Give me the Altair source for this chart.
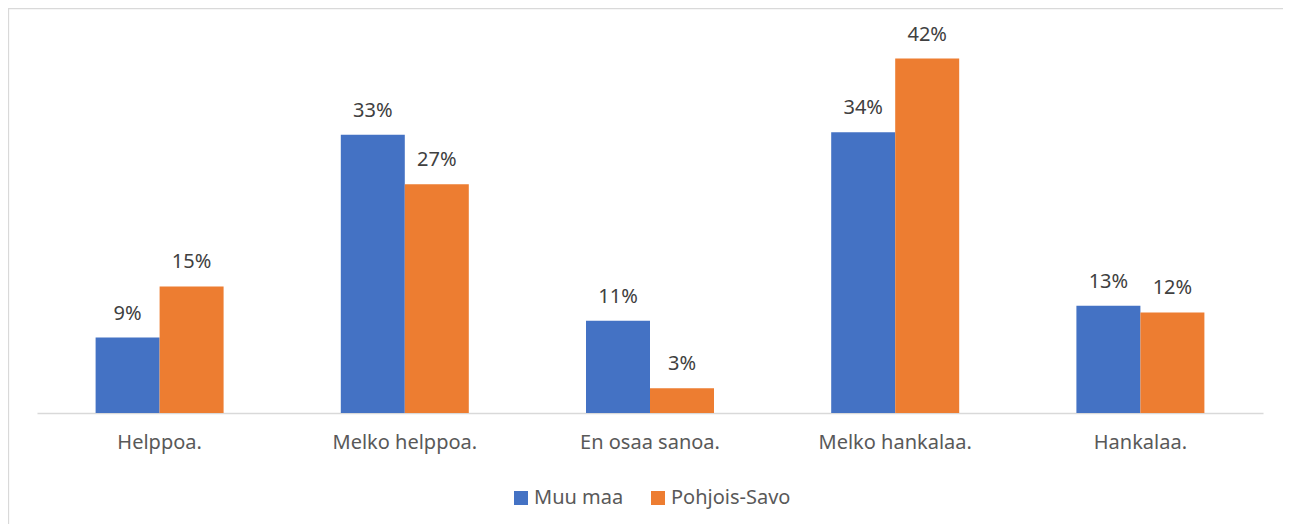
import altair as alt
import pandas as pd

categories = ["Helppoa.", "Melko helppoa.", "En osaa sanoa.", "Melko hankalaa.", "Hankalaa."]
series = ["Muu maa", "Pohjois-Savo"]
muu_maa = [9.0, 33.2, 11.0, 33.5, 12.8]
pohjois_savo = [15.1, 27.3, 2.95, 42.3, 12.0]
muu_maa_labels = ["9%", "33%", "11%", "34%", "13%"]
pohjois_savo_labels = ["15%", "27%", "3%", "42%", "12%"]
colors = ["#4472C4", "#ED7D31"]

rows = []
for i, c in enumerate(categories):
    rows.append({"category": c, "series": series[0], "value": muu_maa[i], "label": muu_maa_labels[i]})
    rows.append({"category": c, "series": series[1], "value": pohjois_savo[i], "label": pohjois_savo_labels[i]})
df = pd.DataFrame(rows)

FONT = "Noto Sans"

x_enc = alt.X("category:N", sort=categories,
              scale=alt.Scale(paddingInner=0.478, paddingOuter=0.239),
              axis=alt.Axis(title=None, labelAngle=0, ticks=False, domain=True,
                            domainColor="#D9D9D9", domainWidth=1.3,
                            labelFontSize=20, labelColor="#595959", labelFont=FONT,
                            labelPadding=19, grid=False))
xo_enc = alt.XOffset("series:N", sort=series, scale=alt.Scale(paddingInner=0, paddingOuter=0))
y_enc = alt.Y("value:Q", scale=alt.Scale(domain=[0, 45], nice=False, zero=True), axis=None)

base = alt.Chart(df)

bars = base.mark_bar().encode(
    x=x_enc,
    xOffset=xo_enc,
    y=y_enc,
    color=alt.Color("series:N", sort=series,
                    scale=alt.Scale(domain=series, range=colors),
                    legend=alt.Legend(title=None, orient="none", legendX=474, legendY=452,
                                      direction="horizontal", symbolType="square",
                                      symbolSize=196, symbolStrokeWidth=0,
                                      labelFontSize=20, labelColor="#595959", labelFont=FONT,
                                      labelOffset=3, columnPadding=24, padding=0)),
)

labels = base.mark_text(baseline="alphabetic", dy=-18, fontSize=20, font=FONT,
                        color="#404040").encode(
    x=alt.X("category:N", sort=categories),
    xOffset=alt.XOffset("series:N", sort=series),
    y="value:Q",
    text="label:N",
)

border = alt.Chart(pd.DataFrame({"b": [0]})).mark_rect(
    fill=None, stroke="#D9D9D9", strokeWidth=1.3
).encode(
    x=alt.value(-28.5), x2=alt.value(1400),
    y=alt.value(-27.5), y2=alt.value(700),
)

chart = alt.layer(border, bars, labels).properties(
    width=1226, height=377,
    padding={"left": 29, "top": 28, "right": 20, "bottom": 111},
    autosize=alt.AutoSizeParams(type="none"),
).configure(font=FONT).configure_view(strokeWidth=0, stroke=None)

chart.save("out.html", embed_options={"renderer": "svg", "actions": False})
